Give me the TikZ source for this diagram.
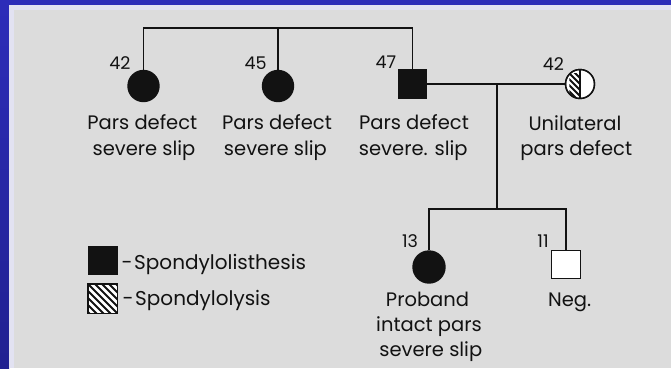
\documentclass[tikz,border=0pt]{standalone}
\usepackage{fontspec}
\setmainfont{Poppins}
\definecolor{ink}{RGB}{18,18,18}
\definecolor{panel}{RGB}{220,220,220}
\definecolor{rim}{RGB}{226,226,242}
\definecolor{frameTop}{RGB}{45,45,185}
\definecolor{frameBot}{RGB}{33,33,145}
\begin{document}
\begin{tikzpicture}[x=1pt,y=-1pt,
  ped/.style={draw=ink,line width=1.6pt},
  female/.style={circle,draw=ink,line width=1.4pt,fill=ink,minimum size=31pt,inner sep=0pt},
  male/.style={rectangle,draw=ink,line width=1.4pt,fill=ink,minimum size=28.5pt,inner sep=0pt},
  open/.style={fill=white},
  age/.style={anchor=base,inner sep=0pt,text=ink,font=\fontsize{17.5}{18}\selectfont},
  lbl/.style={anchor=base,inner sep=0pt,text=ink,font=\fontsize{19.5}{20}\selectfont},
  keytext/.style={anchor=base west,inner sep=0pt,text=ink,font=\fontsize{20}{21}\selectfont},
  hatch/.style={draw=ink,line width=1.8pt}]
\useasboundingbox (0,0) rectangle (671,368);

% frame and panel
\fill[frameTop] (0,0) rectangle (671,368);
\shade[top color=frameTop,bottom color=frameBot] (0,0) rectangle (9,368);
\fill[rim] (9,5) rectangle (671,368);
\fill[panel] (14,10) rectangle (671,368);

% generation II
\node[female] (c1) at (143.5,86) {};
\node[female] (c2) at (278,86) {};
\node[male] (s3) at (412.5,84) {};
\node[circle,draw=ink,line width=1.4pt,fill=white,minimum size=29pt,inner sep=0pt] (c4) at (580,84) {};

% generation III
\node[female,minimum size=32pt] (p) at (429,267) {};
\node[male,open] (n) at (566,264.5) {};

% half-hatched circle
\begin{scope}
  \clip (c4.center) circle[radius=14.3];
  \clip (c4.north west) rectangle (c4.south);
  \foreach \k in {-24,-18,...,24}
    \draw[hatch] ([xshift=\k pt]c4.center) ++(-25,-25) -- ++(50,50);
\end{scope}
\draw[ink,line width=1.4pt] (c4.north) -- (c4.south);
\draw[ink,line width=1.4pt] (c4.center) circle[radius=14.5];

% connectors
\coordinate (sibbar) at (278,27.7);
\coordinate (mate) at (497,84);
\coordinate (kids) at (497,209);
\draw[ped] (c1.north) |- (sibbar) -| (s3.north);
\draw[ped] (c2.north) -- (c2.north |- sibbar);
\draw[ped] (s3.east) -- (c4.west);
\draw[ped] (mate) -- (kids);
\draw[ped] (p.north) |- (kids) -| (n.north);

% ages
\node[age] (a1) at (120,69.3) {42};
\node[age] (a2) at (255.5,69.3) {45};
\node[age] (a3) at (386,68.3) {47};
\node[age] (a4) at (553.3,70.7) {42};
\node[age] (a5) at (410,247.3) {13};
\node[age] (a6) at (543,247.3) {11};

% descriptions
\node[lbl] (t1a) at (142.3,129.3) {Pars defect};
\node[lbl] (t1b) at (144,155) {severe slip};
\node[lbl] (t2a) at (277,129.3) {Pars defect};
\node[lbl] (t2b) at (275.4,155) {severe slip};
\node[lbl] (t3a) at (414,129.3) {Pars defect};
\node[lbl] (t3b) at (413.3,155) {severe. slip};
\node[lbl] (t4a) at (575,130) {Unilateral};
\node[lbl] (t4b) at (576.3,155) {pars defect};
\node[lbl] (t5a) at (427.5,306.7) {Proband};
\node[lbl] (t5b) at (429,331.7) {intact pars};
\node[lbl] (t5c) at (430.8,356.7) {severe slip};
\node[lbl] (t6a) at (569.7,306) {Neg.};

% key
\node[rectangle,fill=ink,draw=ink,line width=1pt,minimum width=29pt,minimum height=28pt,inner sep=0pt] (k1) at (102.8,260.2) {};
\node[rectangle,fill=white,minimum width=29pt,minimum height=29pt,inner sep=0pt] (k2) at (102.8,298.8) {};
\begin{scope}
  \clip (k2.north west) rectangle (k2.south east);
  \foreach \k in {-28,-21,...,28}
    \draw[hatch] ([xshift=\k pt]k2.center) ++(-25,-25) -- ++(50,50);
\end{scope}
\draw[ink,line width=1.4pt] (k2.north west) rectangle (k2.south east);
\node[keytext] (k1t) at (121.5,269) {-\hspace{1.5pt}Spondylolisthesis};
\node[keytext] (k2t) at (122.5,305) {-\hspace{1.5pt}Spondylolysis};
\end{tikzpicture}
\end{document}
